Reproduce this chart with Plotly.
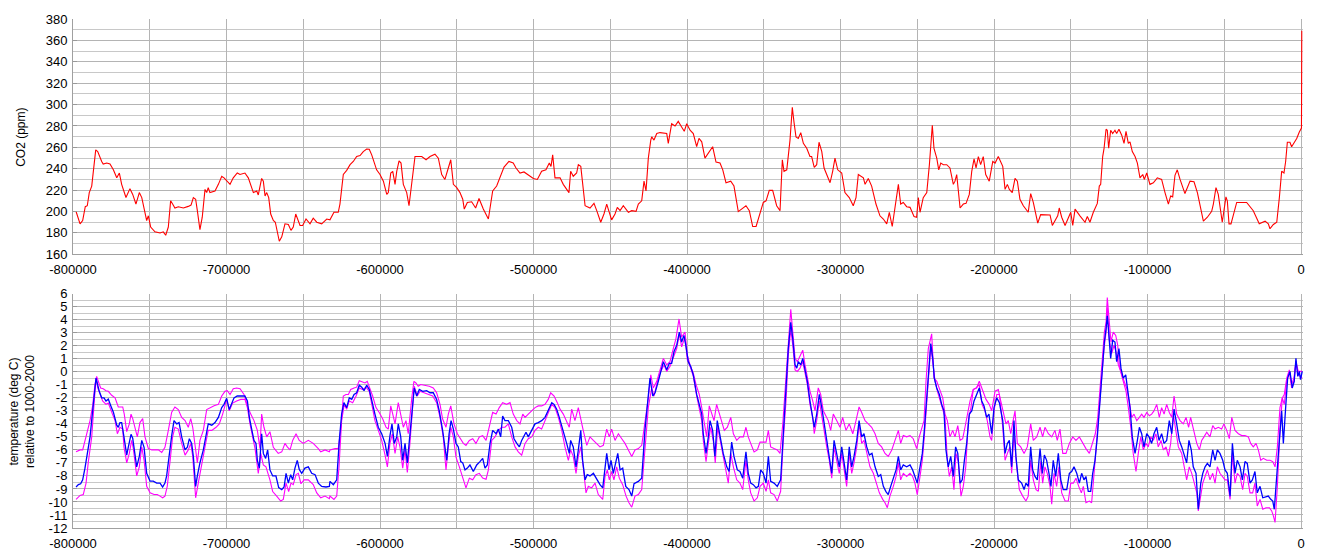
import plotly.graph_objects as go

# ---------------- DATA ----------------
# CO2 record (age in kyr relative to present, ppm)
co2_age_kyr = [-798.0,-795.4,-793.7,-792.0,-790.7,-789.4,-787.8,-786.8,-785.2,-783.9,-782.4,-781.3,-780.3,-778.0,-775.9,-773.7,-771.5,-769.8,-768.3,-765.5,
-762.9,-761.1,-759.0,-756.8,-755.2,-753.7,-752.0,-750.9,-749.4,-746.6,-743.3,-741.2,-739.6,-737.9,-736.4,-735.1,-733.6,-731.4,-728.1,-724.9,
-723.1,-721.6,-720.1,-719.0,-717.3,-715.8,-714.0,-712.9,-711.9,-710.8,-707.5,-705.3,-703.1,-701.6,-699.9,-697.7,-695.6,-693.0,-691.2,-688.0,
-685.8,-682.5,-680.3,-679.3,-677.1,-676.0,-674.9,-673.8,-672.5,-671.2,-669.5,-668.2,-665.6,-664.0,-661.9,-659.7,-658.0,-656.5,-654.9,-653.6,
-652.1,-650.4,-648.2,-645.6,-643.5,-641.2,-638.0,-634.7,-632.6,-630.0,-627.2,-626.1,-623.9,-621.7,-619.5,-617.4,-615.2,-613.0,-610.9,-608.7,
-607.0,-605.4,-604.4,-602.2,-600.0,-597.8,-595.6,-594.6,-593.0,-591.7,-590.2,-589.1,-587.6,-586.3,-584.8,-582.6,-581.1,-579.3,-577.2,-575.7,
-572.8,-570.0,-567.4,-564.2,-562.0,-559.8,-557.7,-555.5,-553.9,-552.2,-550.0,-547.9,-546.1,-545.1,-543.1,-540.3,-537.7,-535.5,-532.7,-529.4,
-526.6,-524.0,-521.4,-519.2,-516.0,-513.2,-511.4,-508.8,-506.2,-503.4,-500.1,-497.5,-494.7,-491.9,-489.7,-488.6,-487.5,-486.0,-482.7,-480.6,
-478.4,-476.9,-475.8,-474.1,-471.9,-470.8,-469.2,-466.4,-463.2,-460.6,-458.8,-456.2,-454.1,-452.3,-451.0,-449.1,-446.9,-445.4,-443.6,-441.5,
-438.2,-436.0,-433.2,-431.7,-429.5,-428.0,-426.7,-425.2,-423.6,-423.0,-421.5,-419.7,-417.6,-413.2,-412.2,-410.0,-407.8,-405.7,-403.5,-401.8,
-400.2,-398.0,-395.9,-393.7,-392.2,-390.4,-388.3,-386.1,-383.3,-381.1,-378.5,-376.7,-374.6,-371.5,-369.4,-366.6,-364.4,-361.6,-359.4,-357.2,
-355.0,-352.4,-350.3,-348.5,-346.4,-344.2,-341.6,-339.4,-337.9,-336.8,-335.0,-332.9,-331.4,-330.3,-329.0,-327.5,-325.9,-324.2,-322.0,-319.9,
-318.8,-317.1,-315.5,-314.0,-312.2,-310.7,-309.0,-306.8,-305.1,-303.6,-301.8,-299.2,-297.1,-294.3,-291.7,-289.9,-288.4,-285.1,-284.0,-281.9,
-279.7,-276.9,-274.3,-272.1,-269.9,-268.2,-266.3,-264.5,-262.3,-260.8,-259.1,-256.9,-254.7,-252.1,-250.4,-249.3,-248.2,-246.1,-243.8,-242.1,
-240.2,-239.1,-237.3,-236.0,-234.7,-233.0,-230.8,-228.7,-226.5,-225.4,-224.3,-222.1,-220.0,-218.2,-216.1,-214.5,-213.0,-211.7,-210.2,-208.7,
-207.0,-205.4,-203.1,-200.8,-199.3,-197.2,-196.1,-194.3,-192.8,-191.3,-190.0,-188.1,-186.3,-184.8,-183.1,-180.9,-177.7,-176.1,-174.4,-171.5,
-169.6,-166.8,-163.5,-162.0,-160.3,-158.5,-157.5,-155.9,-153.7,-151.6,-150.0,-148.7,-147.2,-144.0,-140.7,-139.2,-137.5,-135.3,-132.7,-131.4,
-130.5,-129.2,-128.3,-127.0,-126.2,-125.3,-124.0,-122.7,-121.2,-120.1,-118.6,-116.8,-115.3,-114.0,-112.5,-111.4,-109.9,-108.1,-106.6,-104.9,
-103.1,-102.1,-100.5,-98.4,-96.2,-93.6,-90.8,-88.6,-86.4,-84.9,-83.6,-82.1,-80.6,-78.8,-75.6,-72.3,-69.7,-67.5,-65.1,-63.6,
-61.0,-58.2,-57.1,-55.4,-53.9,-52.8,-51.3,-50.2,-48.9,-48.0,-46.9,-45.6,-41.9,-35.4,-31.1,-27.2,-23.4,-21.3,-20.2,-18.0,
-15.8,-14.1,-12.6,-11.1,-10.0,-8.9,-7.2,-6.1,-4.6,-2.8,-1.1,0.3,0.5]
co2_ppm = [200,188.5,191.6,204.5,205.4,217.7,223.8,239,257.6,256,249.9,246.8,244.4,245.3,244.4,239,231.5,236,225.4,213.1,
221.4,216,207,217.7,213,204,191.6,196,185.5,181,180,181,177.8,185.5,210,207,203.3,204.5,203.3,204.8,
206,213,211.5,200.8,183,194.7,220.7,217.7,222.3,217.7,219.2,225.4,233,231.5,228.4,225.4,231.5,236,234.6,236,
231.5,217.7,219.2,215.5,230.9,228.4,214.6,217.7,213,197.7,191.6,190,172.2,176.3,188.5,187.9,182.4,185.5,197.7,193,
187,187,193,188.5,193.8,190,188.5,193,192.2,199.3,199.3,207,234.6,238.5,243.8,246.8,251.4,252.3,256,258.5,
258.2,253,248.4,239,234.6,228.4,216,217.7,236,237.6,225.4,237.6,247.4,245.3,225.4,217.7,205.4,225.4,251.4,251.4,
251.4,248.4,251.4,253.6,249.9,234.6,230,240.7,248.4,225.4,222.3,217.7,211.5,202.3,208.5,209.1,203.3,212.2,202.3,193,
219.2,223.8,233,241.6,246.8,245.3,240.7,236,237,233.9,230.9,230,237.6,239,245.3,242.2,253,231.5,231.5,225.4,
220.7,217.7,237.6,233,236,243.8,242.2,205.4,203.3,207.6,200.8,190,197.7,207,200.8,192.2,197.7,203.9,200.8,205.4,
199.3,200.8,200.2,207,210,228.4,219.2,249.9,266.8,269.8,266.8,272.9,273.8,272.9,263.7,282.1,280,284.3,279,275,
282.1,276,272.9,260.6,268.3,265.2,249.9,254.5,260.6,246.2,245.3,239,226.9,228.4,223.8,199.9,202.3,205.4,200.8,186,
186,199.3,208.5,210,219.8,219.8,205.4,200.8,248.4,237.6,239,266.8,297.4,283.6,269.8,268.3,273.8,263.7,259.1,251.4,
251.4,241.3,243.8,264.8,256,240.7,234.6,226.9,237.6,249.9,239,236,217.7,213,205.4,213,234.6,231.5,225.4,230.9,
223.8,207,196,193,188.5,199.3,186,202.3,225.4,207,208.5,204.5,203.9,195.3,194.7,213,199.3,213,217.7,243.8,
280.6,259.1,249.9,239,245.3,243.8,243.8,240.7,225.4,228.4,234.6,203.3,207,207.6,216,237.6,249.3,240.7,251.4,243.8,
251.4,234.6,228.4,246.8,245.3,251.4,248.4,242.2,220.7,225.4,220.7,217.7,230.9,228.4,211.5,205.4,199.3,216.8,208.5,189.2,
197.1,197.1,196.8,187,191.6,196,203.3,194.7,187,194.7,199.3,187,202.3,196,190,195.3,190,199.3,207.6,223.8,
225.4,251.4,259.1,276.9,276,259.1,276,272.9,276,272.9,276.9,271.4,263.7,275,263.7,265.2,256,251.4,245.3,231.5,
234.6,230,236,225.4,226.9,231.5,230,217.7,207,214.6,213.7,233.9,239,230,216.8,228.4,227.8,217.7,202.3,191,
194.7,200.2,207,222.3,216,203.9,190,200.8,213.7,210,188.5,188.5,208.5,208.5,200.8,188.5,191,188.5,183.9,187.9,
190,213,237.6,236,246.8,264.8,264.8,260.6,263.7,268.3,274.4,278,369]

# Temperature, central estimate (blue)
temp_mid_age_kyr = [-798.0,-796.5,-795.0,-793.7,-792.2,-790.7,-788.9,-787.2,-786.1,-785.0,-784.2,-782.9,-781.3,-779.8,-778.5,-777.0,-775.4,-773.7,-771.5,-770.5,
-769.4,-768.3,-766.8,-765.0,-764.0,-762.2,-761.1,-759.6,-758.5,-756.8,-755.2,-753.7,-752.0,-749.8,-747.7,-745.5,-743.3,-741.6,-740.1,-739.0,
-737.5,-735.7,-734.2,-732.4,-730.9,-729.2,-727.0,-725.5,-724.2,-722.7,-721.6,-720.1,-719.0,-717.3,-715.1,-713.4,-711.9,-709.6,-707.5,-705.3,
-703.1,-701.6,-699.9,-698.2,-696.6,-695.1,-693.0,-690.1,-688.0,-686.4,-685.1,-683.6,-682.1,-680.8,-679.9,-678.6,-677.1,-676.0,-674.5,-673.2,
-671.7,-669.9,-667.8,-666.0,-664.0,-662.5,-661.2,-659.7,-658.2,-656.9,-655.4,-653.9,-652.6,-651.0,-648.9,-646.7,-644.5,-642.3,-640.2,-638.0,
-635.2,-633.0,
-632.6,-630.4,-628.2,-626.5,-625.0,-623.5,-621.7,-620.0,-618.4,-616.9,-615.2,-613.5,-611.9,-610.4,-608.7,-607.0,-605.4,-603.3,-601.1,-598.9,
-596.7,-595.2,-593.5,-592.2,-590.7,-589.1,-588.1,-586.5,-585.2,-583.7,-582.2,-580.5,-579.0,-577.7,-576.1,-574.4,-572.2,-569.6,-567.4,-565.3,
-563.1,-561.4,-559.2,-557.7,-556.5,-555.0,-553.7,-552.2,-550.5,-549.0,-547.4,-546.1,-544.6,-543.1,-541.4,-539.2,-537.0,-534.9,-533.1,-531.6,
-530.1,-528.3,-526.6,-524.4,-522.9,-521.4,-520.1,-518.6,-516.4,-514.2,-512.7,-510.9,-509.2,-507.7,-506.6,-504.9,-503.4,-501.2,-499.0,-496.9,
-494.7,-492.5,-490.4,-488.1,-486.6,-484.9,-483.2,-480.6,-478.4,-476.7,-475.8,-474.1,-472.3,-470.8,-469.2,-468.0,-466.4,-465.0,-463.2,-461.0,
-458.8,-456.7,-454.9,-453.4,-452.3,-450.8,-449.5,-448.0,-446.4,-445.1,-443.6,-441.9,-439.9,-437.8,-436.0,-434.5,-431.7,-429.5,-427.4,-425.6,
-424.1,-422.3,-420.8,-418.7,
-415.4,-413.2,-411.5,-410.0,-408.5,-406.7,-405.0,-403.5,-402.0,-400.6,-399.2,-397.6,-395.9,-393.7,-392.0,-390.4,-389.4,-387.6,-386.1,-385.0,
-383.3,-381.8,-380.3,-378.5,-376.4,-374.1,-372.6,-370.9,-369.4,-367.2,-365.5,-363.7,-361.6,-360.1,-358.5,-356.8,-355.0,-353.5,-352.0,-350.3,
-348.5,-347.0,-345.5,-343.3,-341.2,-339.0,-337.3,-335.5,-334.0,-332.4,-331.1,-329.6,-328.5,-327.5,-325.9,-324.6,-323.1,-321.6,-319.9,-318.4,
-317.1,-315.5,-313.8,-312.2,-310.7,-309.0,-307.5,-305.7,-304.2,-302.5,-300.8,-299.2,-297.7,-296.0,-294.3,-292.7,-291.2,-289.4,-287.9,-286.2,
-284.7,-282.9,-281.2,-279.5,-277.5,-275.4,-273.8,-272.1,-270.4,-268.9,-267.3,-265.6,-263.8,-262.3,-260.8,-259.1,-256.9,-254.7,-253.0,-251.5,
-250.0,-248.2,-246.7,-245.4,-243.8,-242.3,-241.2,-239.9,-238.9,-237.3,-235.6,-234.1,-232.6,-231.3,-229.8,-228.2,-226.5,-225.0,-223.6,-222.1,
-220.7,-219.3,-217.8,-216.1,-214.5,-213.0,-211.3,-209.6,-208.0,-206.5,-204.8,-203.3,-201.5,-200.0,-198.2,-196.5,
-194.3,-192.8,-191.3,-190.0,-188.5,-187.0,-185.7,-184.2,-182.0,-180.4,-179.2,-177.7,-176.1,-174.8,-173.3,-171.8,-170.0,-168.5,-167.2,-165.7,
-164.2,-162.9,-161.4,-159.8,-158.1,-156.5,-154.9,-152.6,-150.9,-149.4,-147.9,-146.1,-144.4,-142.9,-141.4,-140.1,-138.6,-137.0,-135.7,-134.2,
-132.7,-130.9,-129.4,-128.1,-127.0,-126.2,-125.3,-124.0,-122.7,-121.2,-120.1,-118.6,-117.3,-115.8,-114.2,-112.9,-111.4,-109.9,-108.1,-106.6,
-105.3,-103.8,-102.3,-100.5,-99.0,-97.3,-95.8,-94.0,-92.5,-90.8,-89.2,-87.5,-85.8,-84.2,-82.7,-81.0,-79.3,-77.7,-76.2,-74.5,
-73.0,-71.5,-70.2,-68.4,-66.9,-65.3,-64.0,-62.5,-61.0,-59.3,-57.5,-56.0,-54.5,-52.8,-51.0,-49.5,-48.0,-46.2,-44.7,-43.0,
-41.5,-39.7,-38.2,-36.5,-35.0,-33.2,-31.7,-30.0,-28.5,-26.7,-24.9,-23.4,-21.3,-19.7,-18.4,-17.4,-15.8,-14.1,-12.6,-11.5,
-10.0,-8.7,-7.2,-5.7,-4.4,-3.3,-2.1,-1.1,-0.3,0.8]
temp_mid = [-8.85,-8.67,-8.6,-8.3,-7.4,-6.3,-5.0,-3.0,-1.74,-0.48,-0.86,-1.5,-2.0,-2.0,-2.25,-2.1,-2.6,-3.1,-4.1,-4.26,
-3.9,-3.9,-5.0,-6.4,-5.8,-4.8,-5.1,-6.3,-7.3,-6.5,-5.27,-5.8,-7.8,-8.4,-8.4,-8.55,-8.55,-8.85,-8.55,-8.0,
-6.5,-4.9,-3.75,-4.0,-3.9,-5.0,-6.0,-5.8,-5.14,-5.5,-6.5,-8.8,-8.0,-7.0,-6.0,-5.0,-4.0,-4.1,-3.9,-3.5,
-2.75,-2.5,-2.04,-2.9,-2.5,-2.0,-1.86,-1.86,-1.86,-2.24,-3.5,-4.4,-5.27,-5.5,-6.8,-7.4,-4.76,-6.27,-6.65,-6.0,
-7.54,-8.0,-8.0,-8.9,-9.05,-8.85,-7.8,-8.55,-7.9,-8.3,-7.4,-6.8,-7.5,-7.8,-7.4,-7.3,-7.8,-7.9,-8.55,-8.8,
-8.85,-8.8,
-8.42,-8.67,-8.3,-5.27,-3.25,-2.37,-2.75,-2.0,-2.12,-1.74,-1.61,-1.03,-1.18,-1.45,-1.03,-1.36,-2.24,-3.25,-4.26,-4.76,
-5.5,-6.5,-4.9,-4.0,-5.5,-5.0,-4.0,-5.0,-6.8,-5.5,-7.0,-5.0,-2.75,-1.24,-1.86,-1.36,-1.5,-1.45,-1.61,-1.61,
-2.12,-3.0,-4.5,-5.77,-6.8,-4.76,-3.75,-4.4,-5.5,-5.77,-6.9,-7.0,-7.54,-7.4,-7.16,-7.66,-7.16,-6.9,-6.65,-7.4,
-7.16,-5.5,-4.5,-4.76,-4.4,-5.0,-3.4,-3.75,-3.75,-4.26,-5.14,-5.5,-5.77,-5.27,-5.0,-4.64,-5.0,-4.5,-4.0,-3.9,
-3.75,-3.5,-3.0,-2.37,-2.5,-2.87,-3.5,-4.5,-5.5,-6.27,-5.27,-5.77,-7.3,-6.0,-4.5,-6.8,-8.3,-7.9,-8.0,-7.8,
-8.3,-8.67,-8.92,-7.3,-6.27,-7.54,-6.8,-7.8,-6.9,-6.27,-7.54,-7.4,-8.8,-9.05,-9.55,-8.6,-8.42,-8.17,-4.5,-2.0,
-0.48,-1.86,-1.61,-0.73,
0.78,0.15,0.65,0.65,1.54,2.04,3.05,2.29,2.8,1.92,0.78,0.4,-0.23,-1.74,-2.5,-3.25,-4.76,-6.27,-5.0,-3.75,
-4.5,-6.5,-3.75,-5.0,-6.27,-7.3,-7.66,-5.4,-6.5,-7.54,-7.66,-8.17,-6.15,-7.8,-8.55,-8.67,-8.92,-8.8,-7.54,-7.8,
-8.55,-6.5,-8.42,-8.55,-8.8,-8.3,-4.76,-1.74,1.79,3.8,2.55,0.53,0.28,0.78,0.53,1.03,0.03,-0.73,-2.24,-3.25,
-4.26,-3.25,-1.74,-2.75,-4.0,-5.27,-6.27,-7.8,-5.27,-6.27,-7.3,-5.77,-6.8,-8.3,-5.77,-7.3,-6.5,-5.27,-3.75,-5.0,
-4.76,-5.77,-6.4,-6.27,-7.3,-8.04,-7.9,-8.8,-9.2,-9.43,-8.8,-8.17,-7.54,-6.5,-7.54,-7.16,-7.3,-7.16,-7.54,-8.04,
-8.55,-7.3,-6.27,-4.5,-1.74,0.53,2.17,1.03,-0.48,-1.24,-1.74,-2.5,-3.0,-6.0,-7.3,-6.5,-8.04,-5.77,-6.27,-8.55,
-8.3,-6.8,-5.5,-3.25,-3.0,-2.24,-1.74,-1.24,-2.24,-2.62,-3.5,-3.25,-4.76,-2.75,-2.0,-2.37,
-3.75,-6.27,-5.5,-5.27,-7.3,-3.75,-6.5,-8.3,-8.55,-9.05,-8.55,-8.8,-5.77,-7.54,-8.04,-8.3,-5.9,-7.8,-6.4,-6.8,
-7.8,-8.8,-6.8,-8.04,-6.27,-8.3,-9.05,-9.05,-7.8,-7.66,-7.3,-7.8,-8.55,-7.8,-8.3,-8.04,-9.18,-9.18,-7.8,-6.8,
-5.0,-2.24,0.53,2.29,3.3,4.31,3.05,1.03,2.42,2.29,0.78,1.79,0.28,-0.48,-0.23,-1.24,-2.75,-5.0,-6.27,-5.27,
-4.26,-4.76,-5.77,-4.76,-5.0,-5.5,-4.76,-4.26,-5.27,-4.76,-5.5,-5.27,-3.75,-4.76,-2.87,-4.0,-5.27,-5.77,-6.27,-7.0,
-5.27,-6.0,-7.3,-7.8,-10.56,-8.55,-7.8,-7.3,-7.04,-7.3,-6.0,-6.8,-6.0,-6.27,-6.8,-7.54,-7.8,-9.55,-5.5,-7.8,
-6.8,-7.3,-8.3,-6.9,-7.04,-8.55,-8.3,-7.66,-9.3,-8.8,-9.68,-9.6,-9.55,-9.8,-9.93,-10.56,-8.3,-5.27,-3.0,-5.5,
-2.75,-0.48,0.03,-1.24,-0.73,1.03,-0.35,0.03,-0.6,0.03]

# Temperature, upper estimate (magenta)
temp_hi_age_kyr = [-798.0,-795.4,-793.7,-792.2,-790.7,-788.9,-787.2,-785.7,-784.6,-783.5,-782.0,-780.3,-778.5,-777.0,-774.8,-772.6,-770.5,-768.9,-767.6,-766.6,
-765.0,-763.3,-762.2,-761.1,-759.6,-758.1,-756.4,-754.6,-753.1,-750.9,-748.7,-746.6,-744.4,-742.2,-740.1,-737.9,-735.7,-733.6,-731.4,-729.2,
-727.0,-724.9,-723.3,-722.0,-720.5,-719.0,-717.3,-715.1,-712.9,-710.8,-708.1,-705.3,-703.1,-701.0,-699.5,-697.7,-695.6,-693.4,-691.2,-688.6,
-686.4,-684.2,-682.1,-679.9,-678.2,-677.1,-675.6,-673.8,-671.7,-669.5,-666.3,-664.0,-661.9,-660.4,-658.6,-656.9,-654.7,-652.6,-650.0,-646.7,
-643.5,-640.2,-638.6,-635.8,-633.0,
-632.6,-629.3,-627.2,-625.4,-623.9,-622.2,-620.6,-619.1,-616.9,-615.2,-613.5,-611.5,-609.8,-608.3,-606.5,-604.8,-602.6,-600.5,-598.2,-596.1,
-594.6,-593.0,-591.7,-590.2,-588.1,-586.5,-584.8,-583.1,-581.6,-579.3,-577.9,-576.6,-575.1,-573.5,-570.7,-567.9,-565.3,-563.1,-560.9,-559.2,
-557.0,-555.5,-553.9,-551.8,-549.6,-547.4,-545.7,-544.0,-541.8,-539.6,-537.5,-535.3,-533.1,-530.9,-528.8,-526.6,-524.4,-522.3,-520.1,-517.5,
-515.3,-513.2,-510.9,-508.8,-507.0,-505.5,-503.4,-501.2,-499.0,-496.9,-494.7,-492.5,-490.4,-488.8,-486.6,-484.5,-482.7,-480.6,-478.4,-476.7,
-475.1,-473.0,-470.8,-469.2,-467.6,-465.3,-463.2,-461.0,-458.8,-456.7,-454.5,-452.3,-450.6,-449.1,-446.9,-444.7,-442.5,-440.4,-438.2,-436.0,
-433.9,-431.7,-429.5,-427.4,-425.2,-423.6,-422.0,-419.7,-417.6,-415.4,-413.2,
-411.1,-408.9,-407.2,-405.2,-403.5,-401.3,-399.8,-398.0,-395.9,-394.1,-392.0,-390.4,-388.9,-387.2,-385.5,-383.9,-382.4,-380.7,-379.0,-377.4,
-375.7,-373.7,-371.5,-369.8,-367.6,-365.5,-363.3,-361.6,-360.1,-358.5,-356.3,-354.2,-352.4,-350.3,-348.5,-347.0,-345.5,-343.3,-341.2,-339.4,
-337.6,-336.0,-334.0,-332.4,-331.1,-329.6,-328.1,-326.4,-324.6,-323.1,-321.6,-319.9,-318.1,-316.6,-314.5,-312.9,-311.2,-309.4,-308.0,-306.4,
-304.7,-302.5,-300.3,-298.6,-296.4,-294.3,-292.0,-289.9,-287.9,-286.2,-284.0,-281.9,-279.7,-277.5,-275.4,-273.2,-271.0,-268.9,-266.6,-264.5,
-262.3,-260.8,-259.1,-256.9,-254.7,-252.6,-250.4,-248.7,-247.1,-245.6,-244.3,-242.8,-240.6,-239.1,-237.3,-235.6,-233.4,-231.9,-230.4,-228.7,
-226.9,-225.4,-223.6,-222.1,-220.4,-218.9,-217.4,-215.6,-213.5,-211.3,-209.6,-207.4,-205.2,-203.1,-201.5,-199.3,-197.2,
-196.1,-193.9,-192.2,-190.7,-189.1,-187.8,-186.3,-184.8,-182.6,-180.4,-178.3,-176.1,-174.4,-172.2,-170.0,-168.3,-166.8,-164.6,-162.4,-160.3,
-158.8,-157.0,-155.2,-153.1,-150.9,-148.7,-146.6,-144.4,-142.2,-140.1,-137.9,-135.7,-134.0,-132.4,-130.9,-129.4,-128.1,-127.0,-126.2,-125.1,
-123.8,-122.3,-120.7,-119.4,-118.4,-116.8,-115.1,-113.6,-111.9,-110.3,-108.8,-107.0,-105.3,-103.8,-102.3,-100.5,-98.8,-97.3,-95.8,-94.0,
-92.3,-90.8,-89.2,-87.5,-85.8,-84.2,-82.7,-81.0,-78.8,-76.7,-74.9,-73.2,-71.9,-70.2,-67.9,-66.2,-64.7,-63.2,-61.4,-59.3,
-57.5,-56.0,-53.9,-51.7,-50.2,-48.4,-46.7,-45.1,-43.0,-40.8,-38.6,-36.5,-34.3,-32.8,-31.1,-29.3,-27.8,-26.2,-24.6,-22.3,
-20.2,-18.4,-16.9,-15.4,-13.7,-12.2,-10.9,-9.3,-7.6,-6.1,-4.6,-3.3,-1.8,0.8]
temp_hi = [-6.15,-6.0,-6.0,-5.27,-4.4,-3.75,-2.6,-0.98,-0.35,-0.73,-1.24,-1.3,-1.45,-1.5,-1.8,-2.0,-2.7,-2.7,-2.7,-3.25,
-4.6,-4.0,-3.25,-3.6,-4.4,-5.0,-3.9,-3.6,-5.0,-5.9,-6.0,-6.0,-6.0,-6.2,-5.8,-4.5,-3.1,-2.7,-2.9,-3.5,
-3.75,-4.26,-3.6,-4.26,-5.8,-7.0,-5.27,-4.5,-2.9,-2.75,-2.6,-2.5,-1.86,-1.5,-1.45,-1.74,-1.3,-1.24,-1.3,-1.74,
-2.6,-3.25,-3.75,-4.5,-5.9,-3.25,-4.26,-5.0,-4.6,-5.8,-6.27,-6.15,-5.5,-5.77,-6.0,-5.27,-4.76,-5.27,-5.5,-5.27,
-5.5,-5.9,-6.15,-6.0,-6.15,
-6.0,-5.9,-5.9,-4.26,-1.86,-1.74,-1.74,-1.36,-1.24,-1.18,-0.68,-0.78,-0.86,-0.73,-1.24,-1.86,-2.75,-3.12,-3.63,-4.26,
-4.4,-2.62,-3.25,-4.0,-2.37,-3.25,-4.26,-3.75,-4.76,-2.0,-0.73,-0.86,-1.11,-0.98,-1.03,-1.11,-1.24,-1.61,-2.5,-3.63,
-4.26,-3.25,-2.62,-4.0,-4.76,-5.14,-5.5,-5.65,-5.27,-5.14,-5.5,-5.0,-4.9,-5.27,-4.26,-3.12,-3.25,-2.75,-2.37,-2.5,
-2.37,-3.25,-3.75,-4.0,-3.25,-3.5,-3.25,-3.0,-2.75,-2.62,-2.62,-2.5,-2.12,-1.61,-1.86,-2.37,-2.87,-3.25,-3.75,-4.26,
-2.87,-3.75,-2.75,-3.75,-4.5,-5.65,-5.0,-5.27,-5.5,-5.77,-5.65,-4.4,-5.0,-4.4,-5.27,-4.76,-5.14,-5.5,-6.0,-6.5,
-6.0,-5.9,-5.65,-4.0,-2.0,-0.23,-1.24,-0.73,0.15,1.03,0.53,
0.78,1.79,2.55,4.06,2.67,3.05,1.29,0.53,-0.1,-0.98,-1.74,-2.75,-3.75,-5.0,-2.62,-3.12,-3.75,-2.5,-3.25,-3.75,
-4.5,-4.26,-3.5,-4.76,-5.27,-5.0,-5.0,-4.26,-5.0,-5.5,-6.15,-6.0,-5.4,-5.4,-5.4,-4.5,-5.77,-5.9,-6.0,-6.27,
-4.0,-1.24,2.29,4.81,3.05,1.03,0.78,1.16,1.66,0.53,-0.48,-1.49,-2.24,-3.0,-1.24,-1.74,-3.0,-3.5,-3.75,-4.5,
-3.25,-3.75,-4.26,-3.5,-4.5,-4.0,-4.76,-3.75,-2.7,-3.12,-3.75,-4.0,-4.26,-4.76,-5.5,-5.77,-6.27,-6.5,-6.0,-5.27,
-4.5,-5.5,-4.9,-5.0,-4.9,-5.14,-5.9,-5.0,-4.26,-3.75,-0.73,1.79,2.92,-0.48,-0.73,-1.24,-2.0,-3.25,-3.75,-5.0,
-4.5,-5.0,-4.13,-5.27,-5.14,-4.26,-3.25,-2.24,-1.36,-1.24,-0.73,-1.49,-2.12,-2.5,-3.0,-1.49,-1.36,
-1.99,-3.25,-4.0,-3.75,-4.76,-3.9,-3.0,-5.5,-5.77,-6.27,-5.77,-4.0,-5.27,-5.0,-4.26,-5.0,-4.26,-4.76,-5.0,-4.5,
-5.27,-4.4,-6.27,-6.27,-5.5,-5.0,-5.27,-5.0,-5.5,-5.9,-6.27,-5.5,-4.76,-3.5,-1.49,1.03,3.05,3.81,5.7,3.81,
2.29,3.05,2.8,2.04,0.53,-0.23,-0.73,-1.24,-2.24,-3.5,-3.25,-3.75,-3.5,-3.25,-3.5,-3.12,-3.38,-3.25,-3.0,-2.5,
-3.5,-2.75,-3.25,-2.5,-3.12,-3.5,-1.86,-3.25,-3.75,-4.0,-3.5,-4.26,-3.5,-4.26,-5.5,-6.0,-5.27,-5.0,-4.64,-5.0,
-4.13,-4.4,-4.26,-4.4,-4.0,-4.5,-5.14,-3.5,-4.5,-4.76,-4.9,-4.9,-5.0,-5.5,-5.77,-5.5,-6.0,-6.8,-6.65,-6.8,
-6.8,-6.9,-7.3,-5.77,-2.75,-2.0,-1.74,-0.48,0.15,-0.98,-0.48,0.78,0.03,0.03]

# Temperature, lower estimate (magenta)
temp_lo_age_kyr = [-798.0,-795.4,-793.3,-791.5,-790.0,-787.8,-786.3,-785.0,-783.9,-782.4,-780.7,-778.5,-777.0,-774.8,-772.6,-771.1,-769.4,-767.6,-766.8,-765.0,
-763.3,-761.8,-760.7,-758.5,-756.8,-755.2,-753.7,-752.0,-749.8,-747.2,-745.1,-743.3,-741.6,-740.1,-738.6,-736.8,-735.1,-733.6,-731.4,-729.2,
-727.0,-724.9,-723.3,-722.0,-720.1,-718.4,-716.2,-714.0,-711.9,-709.6,-706.8,-704.7,-702.5,-699.9,-698.2,-696.0,-693.4,-690.7,-688.0,-686.4,
-684.7,-682.9,-681.4,-679.3,-677.7,-676.0,-674.3,-671.7,-669.9,-667.3,-664.7,-663.0,-661.2,-659.5,-658.0,-656.5,-654.7,-653.2,-651.5,-649.5,
-646.7,-643.5,-641.2,-638.6,-635.8,-633.0,
-632.6,-630.0,-628.2,-626.7,-625.0,-623.3,-621.7,-620.0,-617.8,-615.6,-613.5,-611.3,-609.1,-607.0,-605.4,-603.3,-601.1,-598.9,-596.7,-595.2,
-593.5,-592.0,-590.2,-588.5,-587.0,-585.2,-583.7,-582.2,-580.5,-579.0,-577.7,-575.7,-573.9,-571.3,-568.5,-565.7,-563.1,-560.9,-558.8,-557.0,
-555.5,-553.9,-552.2,-550.5,-548.3,-546.1,-544.0,-541.8,-539.6,-537.5,-535.3,-533.1,-530.9,-529.4,-527.2,-525.1,-522.9,-520.7,-518.6,-516.4,
-514.2,-512.0,-509.9,-507.7,-505.5,-503.4,-501.2,-499.0,-496.9,-494.7,-492.5,-490.4,-488.1,-486.0,-483.8,-481.6,-479.5,-477.3,-475.8,-474.1,
-472.3,-470.8,-469.2,-467.6,-465.8,-464.3,-462.1,-459.9,-457.8,-454.9,-453.4,-451.9,-450.6,-449.1,-447.6,-445.8,-444.1,-441.9,-439.7,-437.8,
-436.0,-433.9,-431.7,-429.5,-427.4,-425.2,-423.0,-421.5,-419.3,-417.1,-415.0,
-413.2,-411.1,-408.9,-406.7,-405.0,-403.5,-401.3,-399.8,-397.6,-395.9,-393.7,-392.0,-390.4,-389.4,-387.6,-386.1,-384.6,-382.9,-381.6,-380.0,
-378.0,-375.9,-373.1,-371.5,-369.8,-367.6,-365.5,-363.7,-361.6,-360.1,-358.5,-356.3,-354.2,-352.4,-350.3,-348.5,-347.0,-345.5,-343.3,-341.2,
-339.0,-337.3,-335.5,-334.0,-332.4,-331.1,-329.6,-328.1,-326.4,-324.6,-323.1,-321.6,-319.9,-318.1,-317.1,-315.5,-313.8,-312.2,-310.7,-309.0,
-307.3,-305.7,-304.2,-302.5,-300.8,-299.2,-297.7,-296.0,-294.3,-292.7,-291.2,-289.4,-287.9,-286.2,-284.7,-282.9,-280.8,-278.6,-276.9,-274.7,
-272.5,-271.0,-269.5,-267.8,-265.6,-263.8,-262.3,-260.8,-259.1,-256.9,-254.7,-253.0,-251.5,-250.0,-248.2,-246.7,-245.4,-243.8,-242.3,-241.2,
-239.9,-238.4,-236.9,-235.2,-233.4,-231.9,-230.4,-229.1,-227.6,-226.1,-224.8,-223.3,-221.5,-220.0,-218.4,-216.7,-215.0,-213.5,-211.7,-209.6,
-207.8,-205.9,-204.4,-202.6,-201.5,-200.0,-198.2,-196.5,
-194.3,-192.8,-191.3,-189.6,-188.5,-187.0,-185.2,-183.5,-181.3,-179.2,-177.7,-176.1,-174.4,-172.6,-171.1,-169.6,-168.3,-166.8,-165.3,-163.5,
-162.4,-160.9,-159.2,-157.7,-155.9,-153.7,-151.6,-150.0,-148.3,-146.6,-144.8,-143.1,-141.8,-140.1,-137.9,-136.4,-134.8,-133.1,-131.4,-129.8,
-128.3,-127.0,-126.2,-124.9,-123.3,-121.8,-120.5,-119.0,-117.5,-115.8,-114.0,-112.5,-110.9,-109.3,-107.5,-106.0,-104.4,-102.7,-101.0,-99.5,
-97.9,-96.2,-94.5,-93.0,-91.2,-89.7,-87.9,-86.4,-84.9,-83.2,-81.4,-79.9,-77.7,-76.0,-74.5,-72.8,-71.2,-69.5,-67.9,-66.9,
-65.3,-64.0,-62.5,-61.0,-59.3,-57.5,-56.0,-54.5,-52.8,-51.0,-49.5,-48.0,-46.2,-44.7,-43.0,-41.5,-39.7,-38.0,-36.5,-35.0,
-33.2,-31.5,-30.0,-28.5,-26.7,-24.9,-22.8,-20.6,-19.1,-18.0,-16.9,-15.4,-13.7,-12.2,-10.9,-9.3,-7.6,-6.1,-4.6,-3.3,
-1.8,0.8]
temp_lo = [-9.8,-9.5,-9.43,-8.55,-6.9,-5.0,-2.5,-0.48,-1.24,-1.74,-2.24,-2.5,-2.4,-3.1,-3.75,-4.76,-4.26,-4.4,-5.77,-7.0,
-6.27,-5.27,-5.9,-8.0,-7.3,-5.77,-6.8,-8.8,-9.3,-9.43,-9.43,-9.55,-9.68,-9.55,-8.8,-6.9,-5.0,-4.26,-4.4,-5.5,
-6.4,-6.0,-5.5,-6.5,-9.68,-8.55,-7.3,-5.77,-4.5,-4.5,-4.26,-4.0,-3.25,-2.12,-3.0,-2.4,-2.24,-2.12,-2.12,-2.75,
-4.0,-5.0,-5.9,-7.8,-6.27,-7.16,-7.3,-8.3,-9.2,-9.55,-9.93,-9.8,-8.55,-9.2,-8.55,-8.67,-7.9,-7.8,-8.6,-8.3,
-8.3,-8.67,-9.3,-9.68,-9.55,-9.75,
-9.55,-9.8,-9.55,-7.3,-3.75,-2.5,-2.87,-2.24,-2.37,-1.86,-1.24,-1.36,-1.18,-1.5,-2.5,-3.75,-4.5,-5.27,-6.4,-7.3,
-5.5,-4.76,-6.27,-5.0,-5.77,-7.4,-6.0,-7.74,-5.5,-3.0,-1.11,-1.86,-1.5,-1.61,-1.74,-1.86,-2.37,-3.5,-5.0,-7.54,
-5.77,-4.26,-5.0,-6.55,-7.3,-8.17,-8.92,-8.17,-8.3,-7.9,-7.8,-8.17,-8.25,-7.54,-5.27,-5.0,-4.5,-4.26,-4.26,-4.0,
-5.0,-5.77,-6.15,-6.4,-5.5,-5.14,-5.0,-4.5,-4.26,-4.4,-3.75,-3.25,-2.5,-2.75,-3.5,-4.5,-5.77,-6.8,-6.0,-6.5,
-7.8,-6.5,-5.77,-7.3,-9.3,-8.8,-8.92,-8.55,-9.43,-9.8,-8.04,-7.54,-8.3,-7.66,-8.3,-7.3,-8.17,-8.67,-9.55,-10.06,
-10.4,-9.55,-9.43,-9.05,-5.77,-2.75,-1.24,-1.86,-0.73,0.03,0.53,
0.03,0.4,1.16,1.79,2.92,1.92,2.67,0.91,0.28,-0.35,-1.86,-2.75,-3.75,-5.27,-6.9,-5.5,-4.26,-5.27,-7.0,-4.26,
-5.5,-7.0,-8.55,-6.27,-7.3,-8.3,-8.55,-9.05,-6.8,-8.3,-9.3,-9.93,-9.68,-8.8,-8.55,-9.18,-8.3,-9.3,-9.43,-9.93,
-9.18,-5.27,-2.24,1.29,3.3,2.04,0.15,0.03,0.28,0.78,-0.23,-0.98,-2.5,-3.5,-4.76,-3.75,-2.24,-3.25,-4.5,-5.77,
-6.8,-8.17,-5.77,-6.8,-7.8,-6.27,-7.3,-8.8,-6.27,-7.8,-7.0,-5.77,-4.0,-5.5,-5.27,-6.27,-7.3,-7.8,-8.55,-9.3,
-9.8,-10.06,-10.44,-9.55,-8.8,-8.04,-7.0,-8.3,-7.8,-8.04,-7.8,-8.04,-8.55,-9.43,-8.04,-6.8,-5.0,-2.24,0.28,1.92,
0.78,-0.73,-1.49,-2.12,-2.87,-3.5,-6.8,-8.04,-7.3,-9.05,-6.27,-6.9,-9.55,-8.8,-7.3,-3.75,-2.75,-1.36,-1.24,-0.98,
-2.5,-3.0,-3.75,-5.0,-5.27,-3.0,-1.74,-1.74,
-4.26,-6.8,-6.27,-5.77,-7.8,-4.76,-7.3,-9.05,-9.55,-9.93,-9.55,-6.8,-8.3,-9.05,-9.18,-6.9,-8.55,-7.3,-7.8,-8.8,
-10.18,-7.8,-8.8,-7.3,-9.3,-9.93,-9.93,-8.55,-8.55,-8.17,-8.8,-9.3,-8.8,-10.06,-9.93,-10.06,-7.8,-5.27,-2.75,0.03,
1.79,3.05,4.94,2.42,1.41,2.04,1.54,0.53,0.03,-0.73,-1.49,-2.75,-4.26,-6.27,-7.66,-6.27,-5.0,-6.0,-5.5,-5.77,
-5.0,-5.27,-4.76,-5.77,-5.27,-6.0,-5.77,-6.5,-5.5,-3.25,-4.5,-5.77,-6.27,-7.3,-8.3,-7.3,-7.8,-8.55,-9.3,-10.69,
-9.3,-8.55,-8.04,-7.54,-8.3,-7.8,-8.55,-7.3,-7.8,-8.04,-8.3,-8.3,-9.8,-6.27,-8.55,-7.8,-8.04,-9.05,-7.8,-8.04,
-9.3,-9.3,-8.55,-10.31,-9.8,-10.56,-10.44,-10.44,-10.69,-11.07,-11.57,-8.8,-4.5,-2.0,-2.5,-0.73,0.03,-1.24,-0.73,0.78,
-0.23,-0.48]

# Tick labels
x_tick_labels = ["-800000", "-700000", "-600000", "-500000", "-400000", "-300000", "-200000", "-100000", "0"]
co2_tick_labels = ["160", "180", "200", "220", "240", "260", "280", "300", "320", "340", "360", "380"]
temp_tick_labels = ["-12", "-11", "-10", "-9", "-8", "-7", "-6", "-5", "-4", "-3", "-2", "-1",
                    "0", "1", "2", "3", "4", "5", "6"]
co2_title = "CO2 (ppm)"
temp_title = "temperature (deg C)<br>relative to 1000-2000"

# ---------------- CHECKS ----------------
for name, a, b in [("co2", co2_age_kyr, co2_ppm), ("mid", temp_mid_age_kyr, temp_mid),
                   ("hi", temp_hi_age_kyr, temp_hi), ("lo", temp_lo_age_kyr, temp_lo)]:
    if len(a) != len(b):
        raise ValueError(f"{name}: {len(a)} ages vs {len(b)} values")


def years(kyr):
    return [round(v * 1000) for v in kyr]


# ---------------- FIGURE ----------------
fig = go.Figure()
fig.add_trace(go.Scatter(x=years(co2_age_kyr), y=co2_ppm, mode="lines",
                         line=dict(color="#ff0000", width=1.1), xaxis="x", yaxis="y",
                         showlegend=False, hoverinfo="skip"))
fig.add_trace(go.Scatter(x=years(temp_lo_age_kyr), y=temp_lo, mode="lines",
                         line=dict(color="#ff00ff", width=1.1), xaxis="x2", yaxis="y2",
                         showlegend=False, hoverinfo="skip"))
fig.add_trace(go.Scatter(x=years(temp_hi_age_kyr), y=temp_hi, mode="lines",
                         line=dict(color="#ff00ff", width=1.1), xaxis="x2", yaxis="y2",
                         showlegend=False, hoverinfo="skip"))
fig.add_trace(go.Scatter(x=years(temp_mid_age_kyr), y=temp_mid, mode="lines",
                         line=dict(color="#0000ff", width=1.3), xaxis="x2", yaxis="y2",
                         showlegend=False, hoverinfo="skip"))

FONT = "Liberation Sans, Arial, Helvetica, sans-serif"
GRID = "#b4b4b4"
MINOR_GRID = "#c8c8c8"
tickfont = dict(family=FONT, size=13, color="#000000")

x_major = list(range(-800000, 1, 100000))
x_minor = list(range(-750000, 0, 100000))
co2_major = list(range(160, 381, 20))
co2_minor = list(range(170, 380, 20))
t_major = list(range(-12, 7))
t_minor = [v + 0.5 for v in range(-12, 6)]

def xaxis_cfg(anchor):
    return dict(range=[-800000, 1300], tickmode="array", tickvals=x_major, ticktext=x_tick_labels,
                showgrid=True, gridcolor=GRID, gridwidth=1,
                minor=dict(tickmode="array", tickvals=x_minor, showgrid=True, gridcolor=GRID, gridwidth=1),
                showline=True, linecolor="#a0a0a0", linewidth=1, zeroline=False,
                ticks="", ticklabelstandoff=3, tickfont=tickfont, anchor=anchor,
                domain=[0, 1], fixedrange=True)

# The page body has an 8px margin, so the figure is sized to fit the 1320x555 window.
fig.update_layout(
    width=1312, height=547,
    margin=dict(l=65, r=17, t=4, b=26),
    paper_bgcolor="white", plot_bgcolor="white",
    font=dict(family=FONT, color="#000000"),
    xaxis=xaxis_cfg("y"),
    xaxis2=xaxis_cfg("y2"),
    yaxis=dict(range=[160, 380], domain=[0.5377, 1.0], anchor="x",
               tickmode="array", tickvals=co2_major, ticktext=co2_tick_labels,
               showgrid=True, gridcolor=GRID, gridwidth=1,
               minor=dict(tickmode="array", tickvals=co2_minor, showgrid=True,
                          gridcolor=MINOR_GRID, gridwidth=1),
               showline=True, linecolor="#a0a0a0", linewidth=1, zeroline=False,
               ticks="inside", ticklen=4, tickcolor="#999999", ticklabelstandoff=2,
               tickfont=tickfont),
    yaxis2=dict(range=[-12, 6], domain=[0.0, 0.4603], anchor="x2",
                tickmode="array", tickvals=t_major, ticktext=temp_tick_labels,
                showgrid=True, gridcolor=GRID, gridwidth=1,
                minor=dict(tickmode="array", tickvals=t_minor, showgrid=True,
                           gridcolor=MINOR_GRID, gridwidth=1),
                showline=True, linecolor="#a0a0a0", linewidth=1, zeroline=False,
                ticks="inside", ticklen=4, tickcolor="#999999", ticklabelstandoff=2,
                tickfont=tickfont),
    annotations=[
        dict(text=co2_title, xref="paper", yref="paper", x=-0.0425, y=0.768,
             textangle=-90, showarrow=False, xanchor="center", yanchor="middle",
             font=dict(family=FONT, size=12, color="#000000")),
        dict(text=temp_title, xref="paper", yref="paper", x=-0.0415, y=0.230,
             textangle=-90, showarrow=False, xanchor="center", yanchor="middle",
             font=dict(family=FONT, size=12, color="#000000")),
    ],
)

fig.write_html("out.html")
